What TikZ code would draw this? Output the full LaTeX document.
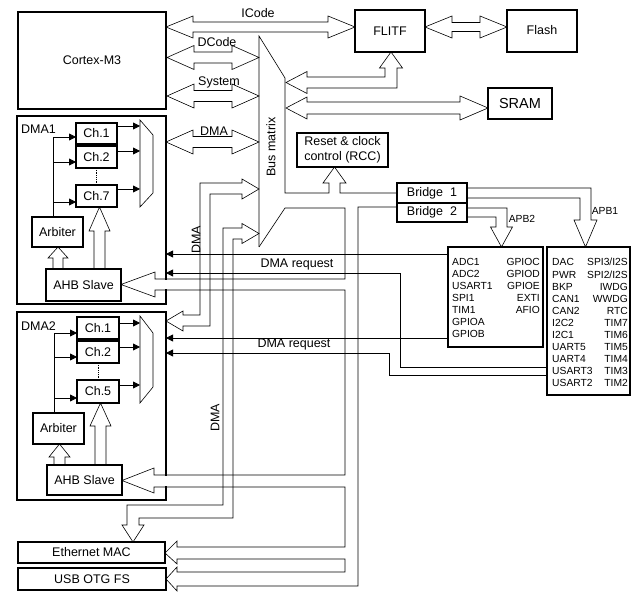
\documentclass[tikz,border=0pt]{standalone}
\usepackage{fontspec}
\setmainfont{Liberation Sans}
\usetikzlibrary{arrows.meta}
\newcommand{\lbl}{\fontsize{12.5}{14.5}\selectfont}
\newcommand{\sml}{\fontsize{10.3}{12}\selectfont}
\tikzset{
  box/.style={draw,line width=1.1pt,inner sep=0pt,outer sep=0pt,font=\lbl},
  bus/.style={draw,line width=0.6pt,line join=miter},
  wire/.style={line width=0.8pt},
  sig/.style={wire,-{Triangle[length=7pt,width=7pt]}},
  mux/.style={draw,line width=0.6pt,line join=miter},
}
\begin{document}
\begin{tikzpicture}[x=1pt,y=-1pt,font=\lbl]
  \useasboundingbox (0,0) rectangle (635,601);

  % Core, flash interface, memories
  \node[box,minimum width=148,minimum height=97] (cortex) at (92,60.5) {Cortex-M3};
  \node[box,minimum width=70,minimum height=42] (flitf) at (390,31) {FLITF};
  \node[box,minimum width=70,minimum height=42] (flash) at (542,31) {\raisebox{3pt}{Flash}};
  \node[box,minimum width=64,minimum height=31,font=\fontsize{14.5}{16}\selectfont] (sram) at (520,103.5) {SRAM};
  \node[box,minimum width=91,minimum height=34,align=left] (rcc) at (342.5,150) {Reset \& clock\\control (RCC)};
  \node[box,minimum width=70,minimum height=20] (brA) at (432,193) {Bridge~ 1};
  \node[box,minimum width=70,minimum height=19] (brB) at (432,212.5) {Bridge~ 2};

  % Peripheral boxes
  \node[box,minimum width=95,minimum height=100] (apbtwo) at (495.5,297) {};
  \node[box,minimum width=83,minimum height=148] (apbone) at (588.5,321) {};
  \foreach \t [count=\i from 0] in {ADC1,ADC2,USART1,SPI1,TIM1,GPIOA,GPIOB}
    \node[font=\sml,inner sep=0pt,anchor=base west] (apbtwoL\i) at (452,{266+12*\i}) {\t};
  \foreach \t [count=\i from 0] in {GPIOC,GPIOD,GPIOE,EXTI,AFIO}
    \node[font=\sml,inner sep=0pt,anchor=base east] (apbtwoR\i) at (540,{266+12*\i}) {\t};
  \foreach \t [count=\i from 0] in {DAC,PWR,BKP,CAN1,CAN2,I2C2,I2C1,UART5,UART4,USART3,USART2}
    \node[font=\sml,inner sep=0pt,anchor=base west] (apboneL\i) at (552,{266+12.1*\i}) {\t};
  \foreach \t [count=\i from 0] in {SPI3/I2S,SPI2/I2S,IWDG,WWDG,RTC,TIM7,TIM6,TIM5,TIM4,TIM3,TIM2}
    \node[font=\sml,inner sep=0pt,anchor=base east] (apboneR\i) at (628,{266+12.1*\i}) {\t};

  % DMA controllers
  \node[box,minimum width=149,minimum height=188] (dmaA) at (91.5,210) {};
  \node[anchor=west,inner sep=0pt] (dmaAlbl) at (21,129) {DMA1};
  \node[box,minimum width=41,minimum height=21] (chA1) at (96.5,133.5) {Ch.1};
  \node[box,minimum width=41,minimum height=22] (chA2) at (96.5,157) {Ch.2};
  \node[box,minimum width=41,minimum height=22] (chA7) at (96.5,196) {Ch.7};
  \node[box,minimum width=51,minimum height=30] (arbA) at (57.5,232) {Arbiter};
  \node[box,minimum width=75,minimum height=32] (ahbA) at (83.5,285) {AHB Slave};

  \node[box,minimum width=149,minimum height=188] (dmaB) at (91.5,406) {};
  \node[anchor=west,inner sep=0pt] (dmaBlbl) at (21,326) {DMA2};
  \node[box,minimum width=42,minimum height=22] (chB1) at (98,328) {Ch.1};
  \node[box,minimum width=42,minimum height=22] (chB2) at (98,352) {Ch.2};
  \node[box,minimum width=42,minimum height=23] (chB5) at (98,391.5) {Ch.5};
  \node[box,minimum width=51,minimum height=31] (arbB) at (58.5,428.5) {Arbiter};
  \node[box,minimum width=75,minimum height=30] (ahbB) at (84.5,480) {AHB Slave};

  \node[box,minimum width=147,minimum height=21] (eth) at (91.5,552.5) {Ethernet MAC};
  \node[box,minimum width=148,minimum height=22] (usb) at (92,579) {USB OTG FS};

  % gaps in the DMA frames where the AHB bus enters
  \fill[white] (160,280) rectangle (172,289);
  \fill[white] (160,476) rectangle (172,486);

  % Inside DMA1
  \draw[mux] (140,120) -- (153,135) -- (153,193) -- (140,207) -- cycle;
  \draw[wire] (53,217) -- (53,137);
  \foreach \y in {137,162,202}
    \draw[sig] (53,\y) -- (chA1.west |- 0,\y);
  \foreach \y in {126,151,189}
    \draw[sig] (chA1.east |- 0,\y) -- (140,\y);
  \draw[wire,densely dotted] (chA2.south) -- (chA7.north);
  \draw[bus] (94,269) -- (94,231) -- (89,231) -- (99.5,207) -- (110,231) -- (105,231) -- (105,269);
  \draw[bus] (53,269) -- (53,258) -- (48,258) -- (58,247) -- (68,258) -- (63,258) -- (63,269);

  % Inside DMA2
  \draw[mux] (140,316) -- (153,333) -- (153,387) -- (140,403) -- cycle;
  \draw[wire] (54,413) -- (54,333);
  \foreach \y in {333,357,398}
    \draw[sig] (54,\y) -- (chB1.west |- 0,\y);
  \foreach \y in {323,347,385}
    \draw[sig] (chB1.east |- 0,\y) -- (140,\y);
  \draw[wire,densely dotted] (chB2.south) -- (chB5.north);
  \draw[bus] (95,465) -- (95,426) -- (90,426) -- (100.5,403) -- (111,426) -- (106,426) -- (106,465);
  \draw[bus] (54,465) -- (54,457) -- (49,457) -- (59.5,444) -- (70,457) -- (65,457) -- (65,465);

  % Buses from the core
  \draw[bus] (166,27) -- (193,16) -- (193,22) -- (328,22) -- (328,16) -- (355,27)
    -- (328,38) -- (328,32) -- (193,32) -- (193,38) -- cycle;
  \draw[bus] (167,57.5) -- (194,45.5) -- (194,52) -- (232,52) -- (232,45.5) -- (259,57.5)
    -- (232,69.5) -- (232,63) -- (194,63) -- (194,69.5) -- cycle;
  \draw[bus] (167,96) -- (194,84) -- (194,90.5) -- (232,90.5) -- (232,84) -- (259,96)
    -- (232,108) -- (232,101.5) -- (194,101.5) -- (194,108) -- cycle;
  \draw[bus] (166,142) -- (193,130) -- (193,136.5) -- (232,136.5) -- (232,130) -- (259,142)
    -- (232,154) -- (232,147.5) -- (193,147.5) -- (193,154) -- cycle;
  \node (icode) at (258,13) {ICode};
  \node (dcode) at (217,42) {DCode};
  \node (sys) at (219,82) {System};
  \node[inner sep=0pt] (dmabus) at (214,131) {DMA};

  % Flash and SRAM buses
  \draw[bus] (425,27) -- (452,16) -- (452,22.5) -- (480,22.5) -- (480,16) -- (507,27)
    -- (480,38) -- (480,31.5) -- (452,31.5) -- (452,38) -- cycle;
  \draw[bus] (286,82.5) -- (307,71.5) -- (307,77) -- (385,77) -- (385,68) -- (379.5,68)
    -- (391,52) -- (402.5,68) -- (397,68) -- (397,88) -- (307,88) -- (307,93.5) -- cycle;
  \draw[bus] (286,108) -- (307,97) -- (307,102) -- (460,102) -- (460,96) -- (488,108)
    -- (460,120) -- (460,114) -- (307,114) -- (307,119) -- cycle;

  % Bus matrix and AHB system bus
  \draw[bus] (259,247) -- (259,36) -- (285,78) -- (285,193) -- (329,193) -- (329,183)
    -- (323,183) -- (334.5,167) -- (346,183) -- (340,183) -- (340,193) -- (brA.west |- 0,193);
  \draw[bus] (259,247) -- (285,208) -- (345,208) -- (345,279) -- (155,279) -- (155,272)
    -- (121,284.5) -- (155,297) -- (155,290) -- (345,290) -- (345,475) -- (154,475)
    -- (154,468) -- (122,480.5) -- (154,493) -- (154,487) -- (345,487) -- (345,547)
    -- (177,547) -- (177,541) -- (165,553) -- (177,564) -- (177,559) -- (345,559)
    -- (345,572) -- (177,572) -- (177,567) -- (166,579) -- (177,591) -- (177,586)
    -- (358,586) -- (358,207) -- (brB.west |- 0,207);
  \node[rotate=90] (busmx) at (271,147) {Bus matrix};

  % DMA paths into the bus matrix
  \draw[bus] (259,189) -- (242,179) -- (242,183) -- (200,183) -- (200,315) -- (183,315)
    -- (183,311) -- (166,321) -- (183,331) -- (183,326) -- (210,326) -- (210,194)
    -- (242,194) -- (242,199) -- cycle;
  \draw[bus] (259,233.5) -- (242,223.5) -- (242,228) -- (223,228) -- (223,505) -- (127,505)
    -- (127,525) -- (122,525) -- (133,542) -- (144,525) -- (139,525) -- (139,518)
    -- (233,518) -- (233,239) -- (242,239) -- (242,243.5) -- cycle;
  \node[rotate=90,inner sep=0pt] (dmavA) at (196,240) {DMA};
  \node[rotate=90,inner sep=0pt] (dmavB) at (215,418) {DMA};

  % APB buses
  \draw[bus] (brA.east |- 0,188) -- (591,188) -- (591,220) -- (597,220) -- (585.5,247)
    -- (574,220) -- (580,220) -- (580,198) -- (brA.east |- 0,198);
  \draw[bus] (brB.east |- 0,208) -- (507,208) -- (507,227) -- (512.5,227) -- (501.5,247)
    -- (490.5,227) -- (496,227) -- (496,217) -- (brB.east |- 0,217);
  \node[font=\sml] (apbtwolbl) at (522,219) {APB2};
  \node[font=\sml] (apbonelbl) at (605,211) {APB1};

  % DMA requests
  \draw[sig] (apbtwo.west |- 0,254) -- (dmaA.east |- 0,254);
  \draw[sig] (apbone.west |- 0,367) -- (400,367) -- (400,273) -- (dmaA.east |- 0,273);
  \draw[sig] (apbtwo.west |- 0,338) -- (dmaB.east |- 0,338);
  \draw[sig] (apbone.west |- 0,375) -- (389,375) -- (389,353) -- (dmaB.east |- 0,353);
  \node (reqA) at (297,264) {DMA request};
  \node (reqB) at (294,344) {DMA request};
\end{tikzpicture}
\end{document}
